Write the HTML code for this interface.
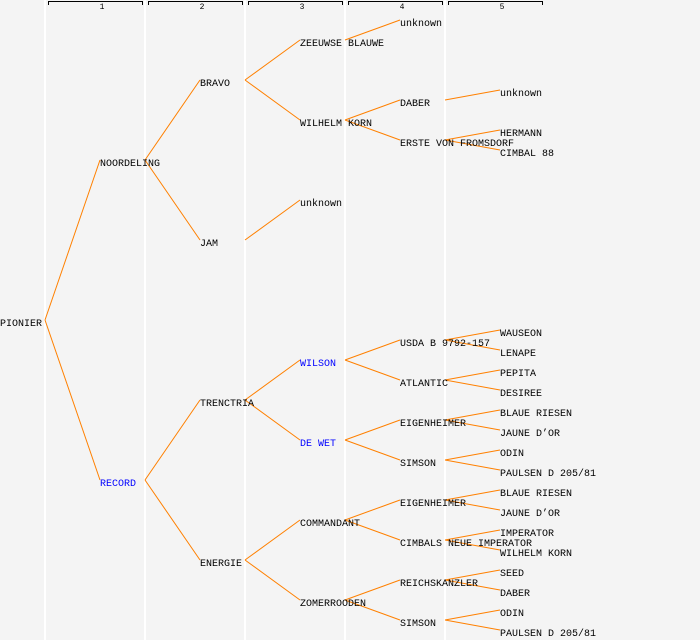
<!DOCTYPE html>
<html><head><meta charset="utf-8"><style>
html,body{margin:0;padding:0;background:#f4f4f4}
svg{display:block}
text{font-family:"Liberation Mono","DejaVu Sans Mono",monospace;font-size:10px;fill:#000}
.b{fill:#0000ff}
.h{font-size:8px}
</style></head><body>
<svg width="700" height="640" xmlns="http://www.w3.org/2000/svg">
<rect width="700" height="640" fill="#f4f4f4"/>
<g stroke="#ffffff" stroke-width="2">
<line x1="45" y1="0" x2="45" y2="640"/><line x1="145" y1="0" x2="145" y2="640"/>
<line x1="245" y1="0" x2="245" y2="640"/><line x1="345" y1="0" x2="345" y2="640"/>
<line x1="445" y1="0" x2="445" y2="640"/>
</g>
<g stroke="#000" fill="none" stroke-width="1">
<path d="M48.5 5V1.5H142.5V5"/><path d="M148.5 5V1.5H242.5V5"/><path d="M248.5 5V1.5H342.5V5"/><path d="M348.5 5V1.5H442.5V5"/><path d="M448.5 5V1.5H542.5V5"/>
</g>
<g class="h" text-anchor="middle">
<text class="h" x="102" y="9">1</text><text class="h" x="202" y="9">2</text><text class="h" x="302" y="9">3</text><text class="h" x="402" y="9">4</text><text class="h" x="502" y="9">5</text>
</g>
<g stroke="#ff8000" stroke-width="1" fill="none">
<path d="M45 320L100 160M45 320L100 480"/>
<path d="M145 160L200 80M145 160L200 240M145 480L200 400M145 480L200 560"/>
<path d="M245 80L300 40M245 80L300 120M245 240L300 200M245 400L300 360M245 400L300 440M245 560L300 520M245 560L300 600"/>
<path d="M345 40L400 20M345 120L400 100M345 120L400 140M345 360L400 340M345 360L400 380M345 440L400 420M345 440L400 460M345 520L400 500M345 520L400 540M345 600L400 580M345 600L400 620"/>
<path d="M445 100L500 90M445 140L500 130M445 140L500 150M445 340L500 330M445 340L500 350M445 380L500 370M445 380L500 390M445 420L500 410M445 420L500 430M445 460L500 450M445 460L500 470M445 500L500 490M445 500L500 510M445 540L500 530M445 540L500 550M445 580L500 570M445 580L500 590M445 620L500 610M445 620L500 630"/>
</g>
<g>
<text x="0" y="326">PIONIER</text>
<text x="100" y="166">NOORDELING</text><text class="b" x="100" y="486">RECORD</text>
<text x="200" y="86">BRAVO</text><text x="200" y="246">JAM</text><text x="200" y="406">TRENCTRIA</text><text x="200" y="566">ENERGIE</text>
<text x="300" y="46">ZEEUWSE BLAUWE</text><text x="300" y="126">WILHELM KORN</text><text x="300" y="206">unknown</text>
<text class="b" x="300" y="366">WILSON</text><text class="b" x="300" y="446">DE WET</text><text x="300" y="526">COMMANDANT</text><text x="300" y="606">ZOMERROODEN</text>
<text x="400" y="26">unknown</text><text x="400" y="106">DABER</text><text x="400" y="146">ERSTE VON FROMSDORF</text>
<text x="400" y="346">USDA B 9792-157</text><text x="400" y="386">ATLANTIC</text><text x="400" y="426">EIGENHEIMER</text><text x="400" y="466">SIMSON</text>
<text x="400" y="506">EIGENHEIMER</text><text x="400" y="546">CIMBALS NEUE IMPERATOR</text><text x="400" y="586">REICHSKANZLER</text><text x="400" y="626">SIMSON</text>
<text x="500" y="96">unknown</text><text x="500" y="136">HERMANN</text><text x="500" y="156">CIMBAL 88</text>
<text x="500" y="336">WAUSEON</text><text x="500" y="356">LENAPE</text><text x="500" y="376">PEPITA</text><text x="500" y="396">DESIREE</text>
<text x="500" y="416">BLAUE RIESEN</text><text x="500" y="436">JAUNE D’OR</text><text x="500" y="456">ODIN</text><text x="500" y="476">PAULSEN D 205/81</text>
<text x="500" y="496">BLAUE RIESEN</text><text x="500" y="516">JAUNE D’OR</text><text x="500" y="536">IMPERATOR</text><text x="500" y="556">WILHELM KORN</text>
<text x="500" y="576">SEED</text><text x="500" y="596">DABER</text><text x="500" y="616">ODIN</text><text x="500" y="636">PAULSEN D 205/81</text>
</g>
</svg>
</body></html>
